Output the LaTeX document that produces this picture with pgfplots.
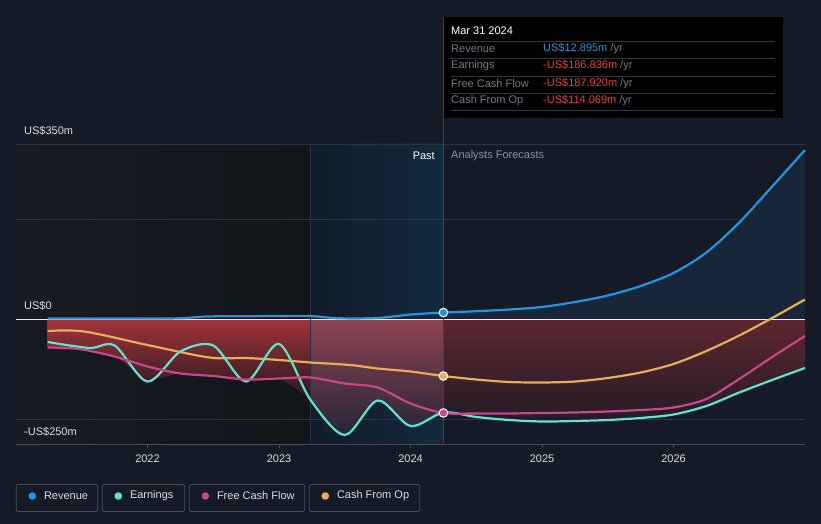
\documentclass[border=0pt]{standalone}
\usepackage{pgfplots}
\pgfplotsset{compat=1.18}
\usepackage{fontspec}
\setmainfont{Liberation Sans}

\definecolor{bg}{HTML}{151B26}
\definecolor{gridc}{HTML}{2E343F}
\definecolor{axisc}{HTML}{474D58}
\definecolor{txt}{HTML}{DCDDE0}
\definecolor{muted}{HTML}{8C9099}
\definecolor{revblue}{HTML}{2394DF}
\definecolor{earnteal}{HTML}{62E3CF}
\definecolor{fcfpink}{HTML}{C6478A}
\definecolor{cfoorange}{HTML}{E9AB5C}
\definecolor{valred}{HTML}{E8403F}
\definecolor{redtop}{HTML}{A2333A}
\definecolor{redbot}{HTML}{24181E}
\definecolor{pinktop}{HTML}{8E4352}
\definecolor{pinkbot}{HTML}{262636}
\definecolor{darkredtop}{HTML}{5E2730}
\definecolor{darkredbot}{HTML}{221B24}
\definecolor{revfill}{HTML}{172638}
\definecolor{leftA}{HTML}{171B24}
\definecolor{leftB}{HTML}{121519}
\definecolor{bandA}{HTML}{111C28}
\definecolor{bandB}{HTML}{122A3E}
\definecolor{bandline}{HTML}{243244}

\begin{document}
\begin{tikzpicture}
\useasboundingbox (0,0) rectangle (821bp,524bp);
\fill[bg] (0,0) rectangle (821bp,524bp);
% background bands (plot area: x 16..805, y 80..380)
\fill[left color=leftA, right color=leftB] (16bp,80bp) rectangle (310.6bp,380bp);
\fill[left color=bandA, right color=bandB] (310.6bp,80bp) rectangle (443.4bp,380bp);

\begin{axis}[
    at={(16bp,80bp)}, anchor=south west,
    scale only axis, width=789bp, height=300bp,
    xmin=2021, xmax=2027, ymin=-250, ymax=350,
    clip=false,
    axis x line*=bottom, axis y line=none,
    x axis line style={draw=axisc, line width=0.8bp, -},
    xtick={2022,2023,2024,2025,2026},
    xticklabels={2022,2023,2024,2025,2026},
    xtick style={draw=axisc, line width=0.8bp},
    tick align=outside, major tick length=4bp,
    xticklabel style={font=\fontsize{11bp}{13bp}\selectfont, text=txt, yshift=-3bp},
    ytick=\empty,
]
% grid lines
\draw[gridc, line width=0.8bp] (axis cs:2021,350) -- (axis cs:2027,350);
\draw[gridc, line width=0.8bp] (axis cs:2021,200) -- (axis cs:2027,200);
\draw[gridc, line width=0.8bp] (axis cs:2021,-200) -- (axis cs:2027,-200);

% area fills
\addplot[draw=none, smooth, fill=revfill] coordinates {
(2024.25,12.9)(2024.5,15.5)(2024.75,19)(2025.0,24)(2025.25,34)(2025.5,47)(2025.75,66)
(2026.0,92)(2026.25,133)(2026.5,193)(2026.75,265)(2027.0,338)} \closedcycle;
\addplot[draw=none, smooth, top color=redtop, bottom color=redbot] coordinates {
(2021.24,-57)(2021.48,-60)(2021.75,-75)(2022.0,-120)(2022.25,-109)(2022.5,-114)(2022.75,-123)
(2023.0,-119)(2023.24,-162)} \closedcycle;
\addplot[draw=none, smooth, top color=pinktop, bottom color=pinkbot] coordinates {
(2023.24,-162)(2023.5,-232)(2023.75,-163)(2024.0,-214)(2024.25,-187)} \closedcycle;
\addplot[draw=none, smooth, top color=darkredtop, bottom color=darkredbot] coordinates {
(2024.25,-187)(2024.5,-196)(2024.75,-202)(2025.0,-205)(2025.25,-204)(2025.5,-202)(2025.75,-198)
(2026.0,-191)(2026.25,-174)(2026.5,-147)(2026.75,-122)(2027.0,-98)} \closedcycle;

% zero line, dividers
\draw[white!90!red, line width=0.9bp] (axis cs:2021,0) -- (axis cs:2027,0);
\draw[bandline, line width=0.8bp] (axis cs:2023.24,-250) -- (axis cs:2023.24,350);
\draw[axisc!80!blue, line width=0.8bp] (axis cs:2024.25,-250) -- (axis cs:2024.25,604);

% series lines
\addplot[revblue, line width=2.2bp, smooth] coordinates {
(2021.24,1)(2021.6,1)(2022.0,1)(2022.25,1.5)(2022.45,5)(2022.7,5.5)(2023.0,6)(2023.24,6)
(2023.45,1.5)(2023.75,2)(2024.0,9)(2024.25,12.9)(2024.5,15.5)(2024.75,19)(2025.0,24)
(2025.25,34)(2025.5,47)(2025.75,66)(2026.0,92)(2026.25,133)(2026.5,193)(2026.75,265)(2027.0,338)};
\addplot[cfoorange, line width=2.2bp, smooth] coordinates {
(2021.24,-24)(2021.52,-25)(2022.0,-52)(2022.47,-77)(2022.75,-78)(2023.0,-82)(2023.24,-87)
(2023.54,-92)(2023.75,-99)(2024.0,-105)(2024.25,-114)(2024.5,-121)(2024.75,-126)(2025.0,-127)
(2025.25,-125)(2025.5,-118)(2025.75,-107)(2026.0,-90)(2026.25,-64)(2026.5,-33)(2026.75,2)(2027.0,39)};
\addplot[earnteal, line width=2.2bp, smooth] coordinates {
(2021.24,-46)(2021.56,-58)(2021.75,-53)(2022.0,-125)(2022.25,-65)(2022.5,-53)(2022.75,-125)
(2023.0,-50)(2023.24,-162)(2023.5,-232)(2023.75,-163)(2024.0,-214)(2024.25,-187)
(2024.5,-196)(2024.75,-202)(2025.0,-205)(2025.25,-204)(2025.5,-202)(2025.75,-198)
(2026.0,-191)(2026.25,-174)(2026.5,-147)(2026.75,-122)(2027.0,-98)};
\addplot[fcfpink, line width=2.2bp, smooth] coordinates {
(2021.24,-57)(2021.48,-60)(2021.75,-75)(2022.0,-95)(2022.25,-109)(2022.5,-114)(2022.75,-121)
(2023.0,-119)(2023.24,-117)(2023.5,-129)(2023.75,-137)(2024.0,-169)(2024.25,-188)
(2024.5,-189)(2024.75,-189)(2025.0,-188)(2025.25,-187)(2025.5,-185)(2025.75,-182)
(2026.0,-177)(2026.25,-160)(2026.5,-120)(2026.75,-76)(2027.0,-34)};

% markers at Mar 31 2024
\addplot[only marks, mark=*, mark size=4.3bp, mark options={fill=revblue, draw=white, line width=1bp}] coordinates {(2024.25,12.9)};
\addplot[only marks, mark=*, mark size=4.3bp, mark options={fill=cfoorange, draw=white, line width=1bp}] coordinates {(2024.25,-114.069)};
\addplot[only marks, mark=*, mark size=4.3bp, mark options={fill=fcfpink, draw=white, line width=1bp}] coordinates {(2024.25,-187.92)};
\end{axis}

% y labels
\begin{scope}[font=\fontsize{11bp}{13bp}\selectfont, text=txt]
\node[anchor=west, inner sep=0] at (24bp,393bp) {US\$350m};
\node[anchor=west, inner sep=0] at (24bp,218bp) {US\$0};
\node[anchor=west, inner sep=0] at (24bp,92bp) {-US\$250m};
\node[anchor=east, inner sep=0, text=white] at (435bp,368bp) {Past};
\node[anchor=west, inner sep=0, text=muted] at (451bp,368bp) {Analysts Forecasts};
\end{scope}

% tooltip
\fill[black] (444bp,406bp) rectangle (783bp,507bp);
\begin{scope}[font=\fontsize{11bp}{13bp}\selectfont]
\node[anchor=west, inner sep=0, text=white] at (451bp,493bp) {Mar 31 2024};
\foreach \yy in {482.5,465.5,448,431,414} {\draw[axisc!70!black, line width=0.8bp] (451bp,\yy bp) -- (775bp,\yy bp);}
\node[anchor=west, inner sep=0, text=muted!120] at (451bp,475bp) {Revenue};
\node[anchor=west, inner sep=0, text=muted!120] at (451bp,458bp) {Earnings};
\node[anchor=west, inner sep=0, text=muted!120] at (451bp,440bp) {Free Cash Flow};
\node[anchor=west, inner sep=0, text=muted!120] at (451bp,423bp) {Cash From Op};
\node[anchor=west, inner sep=0] at (543bp,475bp) {\textcolor{revblue}{US\$12.895m} \textcolor{muted!120}{/yr}};
\node[anchor=west, inner sep=0] at (543bp,458bp) {\textcolor{valred}{-US\$186.836m} \textcolor{muted!120}{/yr}};
\node[anchor=west, inner sep=0] at (543bp,440bp) {\textcolor{valred}{-US\$187.920m} \textcolor{muted!120}{/yr}};
\node[anchor=west, inner sep=0] at (543bp,423bp) {\textcolor{valred}{-US\$114.069m} \textcolor{muted!120}{/yr}};
\end{scope}

% legend
\begin{scope}[font=\fontsize{11bp}{13bp}\selectfont]
\foreach \xa/\xb/\col/\lab in {16.3/97.7/revblue/Revenue, 102.3/184.7/earnteal/Earnings, 189.3/304.7/fcfpink/Free Cash Flow, 309.3/419.7/cfoorange/Cash From Op} {
  \draw[axisc, line width=0.8bp, rounded corners=2bp] (\xa bp,12.5bp) rectangle (\xb bp,39.5bp);
  \fill[\col] (\xa bp+16bp,28bp) circle (3.8bp);
  \node[anchor=west, inner sep=0, text=txt] at (\xa bp+27.5bp,28bp) {\lab};
}
\end{scope}
\end{tikzpicture}
\end{document}
